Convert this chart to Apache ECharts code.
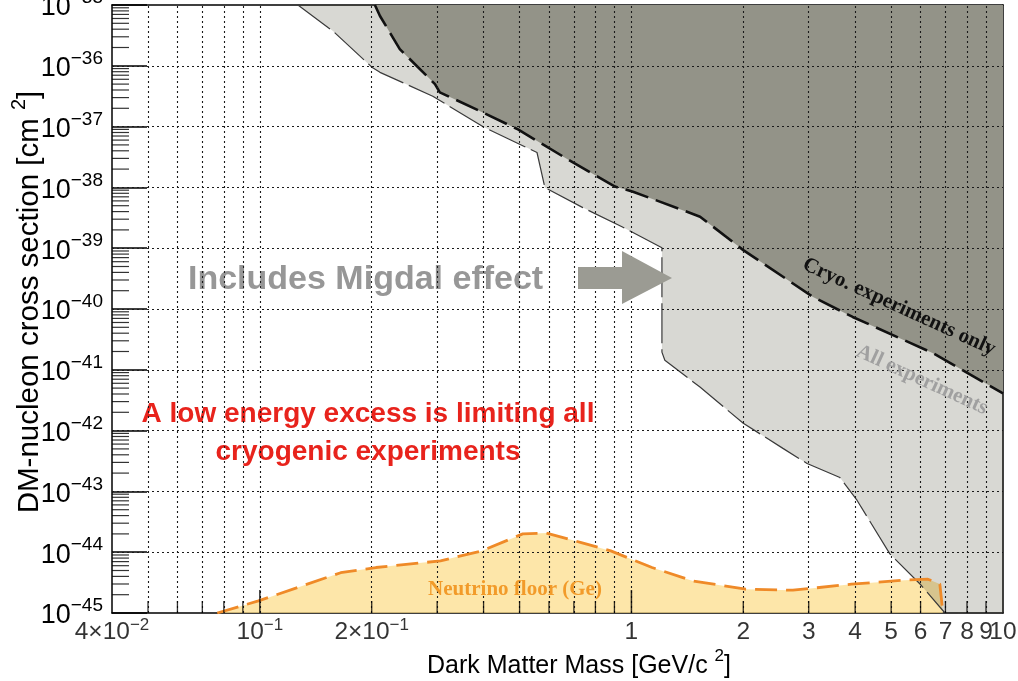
<!DOCTYPE html>
<html><head><meta charset="utf-8">
<script src="https://cdn.jsdelivr.net/npm/echarts@6/dist/echarts.min.js"></script>
<style>html,body{margin:0;padding:0;background:#fff}#c{width:1018px;height:681px}</style>
</head><body><div id="c"></div>
<script>
// ---- data, cross sections in cm^2 ----
const massAll  = [0.1266,0.1573,0.2002,0.2105,0.292,0.398,0.557,0.585,0.740,0.943,1.208,1.208,1.23,1.529,2.0,2.557,2.97,3.64,4.05,4.96,5.98,6.98,10];
const sigmaAll = [1e-35,3.72e-36,9.5e-37,7.8e-37,3.16e-37,1.0e-37,3.75e-38,9.9e-39,4.65e-39,2.25e-39,1.02e-39,1.95e-41,1.44e-41,5.2e-42,1.32e-42,5.1e-43,2.88e-43,1.69e-43,7.1e-44,9.4e-45,3.0e-45,1e-45,1e-45];
const massCryo  = [0.204,0.2105,0.238,0.296,0.305,0.398,0.495,0.696,0.903,1.01,1.53,2.0,3.08,3.94,6.48,10];
const sigmaCryo = [1e-35,6.6e-36,1.88e-36,5.0e-37,3.66e-37,1.71e-37,9.0e-38,2.57e-38,1.03e-38,8.5e-39,3.3e-39,9.3e-40,1.58e-40,7.4e-41,1.88e-41,4.1e-42];
const massNu  = [0.0768,0.0991,0.165,0.2053,0.3064,0.395,0.51,0.59,0.733,0.88,1.136,1.464,2.03,2.72,3.91,5.43,6.28,6.76,6.89];
const sigmaNu = [1e-45,1.58e-45,4.6e-45,5.6e-45,7.2e-45,1.05e-44,2.0e-44,2.07e-44,1.44e-44,1.05e-44,5.6e-45,3.37e-45,2.46e-45,2.37e-45,2.98e-45,3.47e-45,3.6e-45,3.0e-45,1e-45];

// ---- ticks / labels ----
const xGridVals   = [0.05,0.06,0.07,0.08,0.09,0.1,0.2,0.3,0.4,0.5,0.6,0.7,0.8,0.9,1,2,3,4,5,6,7,8,9];
const xMajorTicks = [0.1,1];
const xMinorTicks = [0.05,0.06,0.07,0.08,0.09,0.2,0.3,0.4,0.5,0.6,0.7,0.8,0.9,2,3,4,5,6,7,8,9];
const xLabelVals  = [0.04,0.1,0.2,1,2,3,4,5,6,7,8,9,10];
const xLabelTexts = ['{b|4\u00d710}{s|\u22122}','{b|10}{s|\u22121}','{b|2\u00d710}{s|\u22121}','{b|1}','{b|2}','{b|3}','{b|4}','{b|5}','{b|6}','{b|7}','{b|8}','{b|9}','{b|10}'];
const yMinSigma = 1e-45, yMaxSigma = 1e-35;
const yGridVals   = [1e-44,1e-43,1e-42,1e-41,1e-40,1e-39,1e-38,1e-37,1e-36];
const yDecades    = [-45,-44,-43,-42,-41,-40,-39,-38,-37,-36];
const yMinorMult  = [2,3,4,5,6,7,8,9];

// the y axis works in units of 1e-45 cm^2 (ECharts' log scale can't handle 1e-45 directly)
const Y_UNIT = 1e-45, Y_UNIT_EXP = -45;
const toY = s => s / Y_UNIT;
const pairs = (xs, ys) => xs.map((x, i) => [x, toY(ys[i])]);
const yMinorTicks = [];
yDecades.forEach(d => yMinorMult.forEach(m => yMinorTicks.push(m * Math.pow(10, d - Y_UNIT_EXP))));
const yBottom = toY(yMinSigma), yTop = toY(yMaxSigma);

const SANS = 'Liberation Sans, Arial, Helvetica, sans-serif';
const SERIF = 'Liberation Serif, Times New Roman, serif';
const frame = {show:true, onZero:false, lineStyle:{color:'#000', width:1.5}};

const chart = echarts.init(document.getElementById('c'), null, {renderer:'canvas'});
chart.setOption({
  animation:false,
  backgroundColor:'#fff',
  grid:{left:112, right:15, top:5, bottom:68, containLabel:false, outerBoundsMode:'none'},
  xAxis:[
    {type:'log', logBase:10, min:0.04, max:10, axisLine:frame, axisTick:{show:false}, axisLabel:{show:false}, splitLine:{show:false}},
    {type:'log', logBase:10, min:0.04, max:10, position:'top', axisLine:frame, axisTick:{show:false}, axisLabel:{show:false}, splitLine:{show:false}}
  ],
  yAxis:[
    {type:'log', logBase:10, min:yBottom, max:yTop, interval:1, axisLine:frame,
     axisTick:{show:true, inside:true, length:35, lineStyle:{color:'#000', width:1.5}},
     splitLine:{show:false},
     axisLabel:{show:true, margin:9, showMinLabel:true, showMaxLabel:true,
       formatter:function(v){ const e = Math.round(Math.log10(v)) + Y_UNIT_EXP; return '{b|10}{s|\u2212' + Math.abs(e) + '}'; },
       rich:{ b:{fontSize:27, fontFamily:SANS, color:'#000', lineHeight:33, verticalAlign:'bottom'},
              s:{fontSize:19, fontFamily:SANS, color:'#000', lineHeight:19, verticalAlign:'top'} } }},
    {type:'log', logBase:10, min:yBottom, max:yTop, position:'right', axisLine:frame, axisTick:{show:false}, axisLabel:{show:false}, splitLine:{show:false}}
  ],
  series:[
    { name:'nu-fill', type:'line', data:pairs(massNu, sigmaNu), showSymbol:false, z:2,
      lineStyle:{width:0}, areaStyle:{origin:'start', color:'rgba(252,222,140,0.75)', opacity:1} },
    { name:'all', type:'line', data:pairs(massAll, sigmaAll), showSymbol:false, z:3,
      lineStyle:{color:'#3a3a3a', width:1.2, type:[40,6]},
      areaStyle:{origin:'end', color:'rgba(60,60,37,0.2)', opacity:1} },
    { name:'cryo', type:'line', data:pairs(massCryo, sigmaCryo), showSymbol:false, z:4,
      lineStyle:{color:'#111', width:2.6, type:[24,8]},
      areaStyle:{origin:'end', color:'#939388', opacity:1} },
    { name:'nu-line', type:'line', data:pairs(massNu, sigmaNu), showSymbol:false, z:5,
      lineStyle:{color:'#ef8a28', width:2.8, type:[22,9]} },
    { name:'xMinor', type:'scatter', data:xMinorTicks.map(v=>[v,yBottom]), symbol:'rect', symbolSize:[1.3,12], symbolOffset:[0,-6],
      itemStyle:{color:'#000'}, clip:false, silent:true, z:9,
      markLine:{ silent:true, symbol:['none','none'], label:{show:false}, animation:false,
        lineStyle:{color:'#1a1a1a', type:[2,3], width:1.1},
        data: xGridVals.map(v=>({xAxis:v})).concat(yGridVals.map(v=>({yAxis:toY(v)}))) } },
    { name:'xMajor', type:'scatter', data:xMajorTicks.map(v=>[v,yBottom]), symbol:'rect', symbolSize:[1.5,23], symbolOffset:[0,-11.5],
      itemStyle:{color:'#000'}, clip:false, silent:true, z:9 },
    { name:'yMinor', type:'scatter', data:yMinorTicks.map(v=>[0.04,v]), symbol:'rect', symbolSize:[17,1.2], symbolOffset:[8.5,0],
      itemStyle:{color:'#000'}, clip:false, silent:true, z:9 },
    { name:'xLabels', type:'scatter', data:xLabelVals.map(v=>[v,yBottom]), symbolSize:0, clip:false, silent:true, z:9,
      label:{show:true, position:'bottom', distance:4,
        formatter:function(p){ return xLabelTexts[p.dataIndex]; },
        rich:{ b:{fontSize:24.5, fontFamily:SANS, color:'#000', lineHeight:28, verticalAlign:'bottom'},
               s:{fontSize:17, fontFamily:SANS, color:'#000', lineHeight:17, verticalAlign:'top'} } } }
  ],
  graphic:[
    { type:'text', x:27, y:302, rotation:Math.PI/2, z:10,
      style:{ text:'{b|DM-nucleon cross section [cm }{s|2}{b|]}', align:'center', verticalAlign:'middle', textAlign:'center', textVerticalAlign:'middle',
        rich:{ b:{fontSize:29.5, fontFamily:SANS, fill:'#000', color:'#000', lineHeight:36, verticalAlign:'bottom'},
               s:{fontSize:20, fontFamily:SANS, fill:'#000', color:'#000', lineHeight:20, verticalAlign:'top'} } } },
    { type:'text', x:579, y:663, z:10,
      style:{ text:'{b|Dark Matter Mass [GeV/c }{s|2}{b|]}', align:'center', verticalAlign:'middle', textAlign:'center', textVerticalAlign:'middle',
        rich:{ b:{fontSize:25, fontFamily:SANS, fill:'#000', color:'#000', lineHeight:31, verticalAlign:'bottom'},
               s:{fontSize:17, fontFamily:SANS, fill:'#000', color:'#000', lineHeight:17, verticalAlign:'top'} } } },
    { type:'text', x:188, y:280, z:3,
      style:{ text:'Includes Migdal effect', font:'bold 34px ' + SANS, fill:'#979797', align:'left', verticalAlign:'middle', textAlign:'left', textVerticalAlign:'middle' } },
    { type:'polygon', z:6, shape:{ points:[[578,267],[622,267],[622,251],[672,278],[622,304],[622,289],[578,289]] }, style:{ fill:'#9b9b93' } },
    { type:'text', x:368, y:433, z:3,
      style:{ text:'A low energy excess is limiting all\ncryogenic experiments', font:'bold 28px ' + SANS, fill:'#e8231c', lineHeight:38,
        align:'center', verticalAlign:'middle', textAlign:'center', textVerticalAlign:'middle' } },
    { type:'text', x:899, y:307, rotation:-24.5*Math.PI/180, z:20,
      style:{ text:'Cryo. experiments only', font:'bold 21px ' + SERIF, fill:'#111', align:'center', verticalAlign:'middle', textAlign:'center', textVerticalAlign:'middle' } },
    { type:'text', x:922, y:380, rotation:-24.5*Math.PI/180, z:20,
      style:{ text:'All experiments', font:'bold 21px ' + SERIF, fill:'#a0a0a0', align:'center', verticalAlign:'middle', textAlign:'center', textVerticalAlign:'middle' } },
    { type:'text', x:515, y:590, z:20,
      style:{ text:'Neutrino floor (Ge)', font:'bold 21px ' + SERIF, fill:'#f29b2a', align:'center', verticalAlign:'middle', textAlign:'center', textVerticalAlign:'middle' } }
  ]
});
</script></body></html>
